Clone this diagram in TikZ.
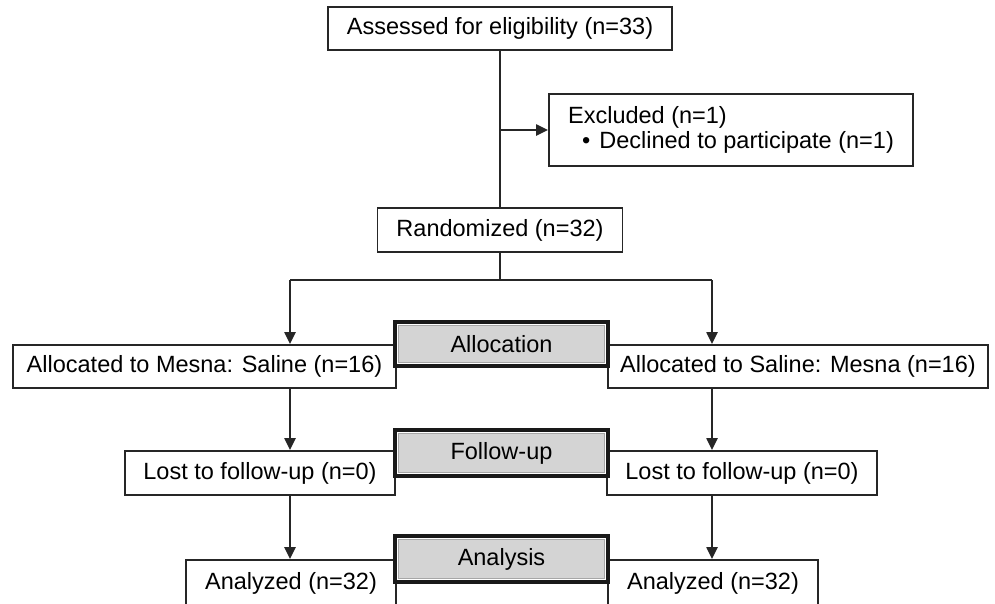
\documentclass[tikz,border=0pt]{standalone}
\usepackage{fontspec}
\setmainfont{Liberation Sans}
\usetikzlibrary{arrows.meta}
\tikzset{
  box/.style={draw=black!85, line width=1.8pt, fill=white, inner sep=0pt, align=center},
  stagebox/.style={draw=black!90, line width=4pt, fill=black!17, inner sep=0pt,
    path picture={
      \draw[white, line width=1.2pt] ([shift={(2.6pt,2.6pt)}]path picture bounding box.south west) rectangle ([shift={(-2.6pt,-2.6pt)}]path picture bounding box.north east);
      \draw[black!35, line width=1pt] ([shift={(3.6pt,3.6pt)}]path picture bounding box.south west) rectangle ([shift={(-3.6pt,-3.6pt)}]path picture bounding box.north east);
    }},
  conn/.style={draw=black!85, line width=2.2pt},
  arr/.style={conn, -{Triangle[length=12pt,width=11pt]}}
}
\begin{document}
\begin{tikzpicture}[x=1pt, y=-1pt, font=\fontsize{23.5}{25}\selectfont]
\useasboundingbox (0,0) rectangle (995,603);
% enrolment
\node[box, minimum width=344pt, minimum height=43pt] (assess) at (500,28.5) {Assessed for eligibility (n=33)};
\node[box, minimum width=364pt, minimum height=72pt, align=left] (excl) at (731,130) {Excluded (n=1)\\\hspace{14pt}\textbullet\hspace{9pt}Declined to participate (n=1)};
\node[box, minimum width=245pt, minimum height=44pt] (rand) at (500,230) {Randomized (n=32)};
\coordinate (excljoin) at (500,130);
\coordinate (split) at (500,280);
\coordinate (brL) at (290,280);
\coordinate (brR) at (712,280);
% arms
\node[box, minimum width=383pt, minimum height=43pt] (allocL) at (204.5,366.5) {Allocated to Mesna: Saline (n=16)};
\node[box, minimum width=380pt, minimum height=43pt] (allocR) at (798,366.5) {Allocated to Saline: Mesna (n=16)};
\node[box, minimum width=270pt, minimum height=44pt] (lostL) at (260,473) {Lost to follow-up (n=0)};
\node[box, minimum width=270pt, minimum height=44pt] (lostR) at (742,473) {Lost to follow-up (n=0)};
\node[box, minimum width=210pt, minimum height=46pt] (anaL) at (291,583) {Analyzed (n=32)};
\node[box, minimum width=210pt, minimum height=46pt] (anaR) at (713,583) {Analyzed (n=32)};
% stages
\node[stagebox, minimum width=213pt, minimum height=44pt] (stAlloc) at (501.5,344) {Allocation};
\node[stagebox, minimum width=213pt, minimum height=46pt] (stFollow) at (501.5,453) {Follow-up};
\node[stagebox, minimum width=213pt, minimum height=46pt] (stAna) at (501.5,559) {Analysis};
% connectors
\draw[conn] (assess.south) -- (rand.north);
\draw[arr] (excljoin) -- (excl.west);
\draw[conn] (rand.south) -- (split);
\draw[conn] (brL) -- (brR);
\draw[arr] (brL) -- (brL |- allocL.north);
\draw[arr] (brR) -- (brR |- allocR.north);
\draw[arr] (brL |- allocL.south) -- (brL |- lostL.north);
\draw[arr] (brR |- allocR.south) -- (brR |- lostR.north);
\draw[arr] (brL |- lostL.south) -- (brL |- anaL.north);
\draw[arr] (brR |- lostR.south) -- (brR |- anaR.north);
\end{tikzpicture}
\end{document}
